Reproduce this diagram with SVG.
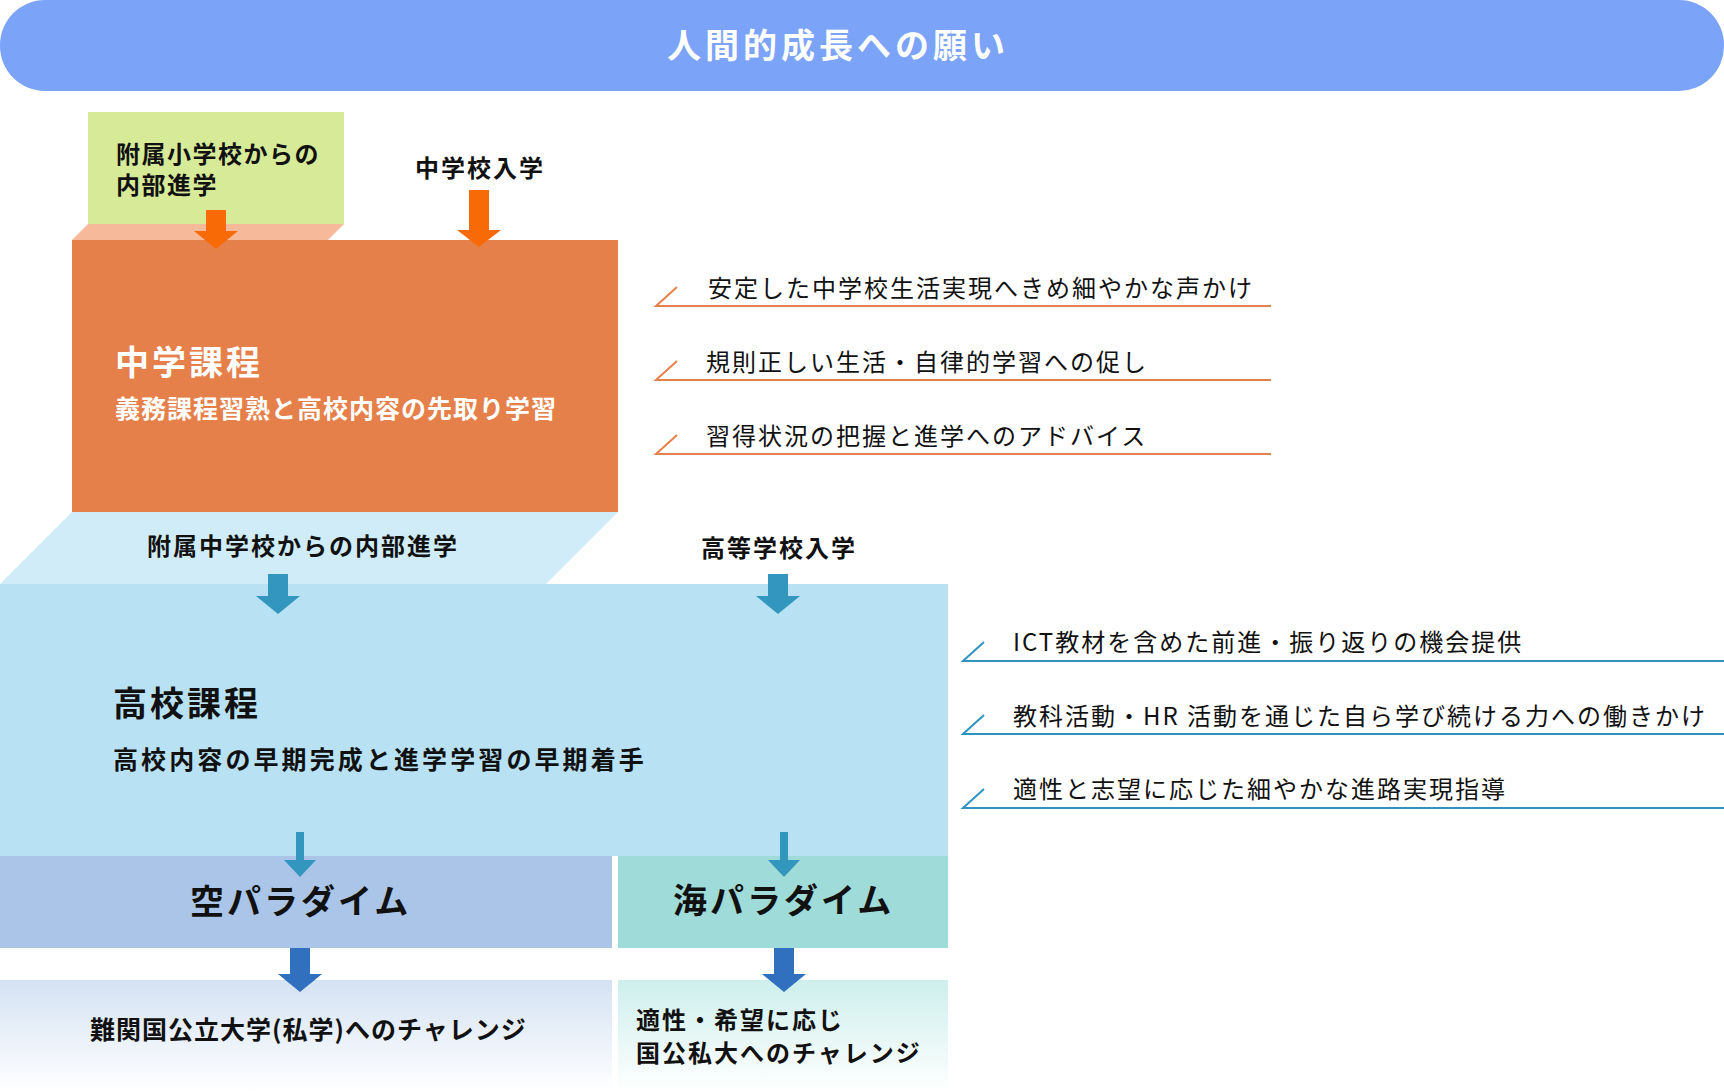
<svg xmlns="http://www.w3.org/2000/svg" width="1724" height="1092" viewBox="0 0 1724 1092">
<defs>
<style>
text { font-family: "Noto Sans CJK JP", "Noto Sans", sans-serif; }
.b { font-weight: 700; fill: #111; }
.w { font-weight: 700; fill: #fff; }
.r { font-weight: 400; fill: #111; font-size: 24px; letter-spacing: 2px; }
.lo { stroke: #E6804A; stroke-width: 2; fill: none; }
.lb { stroke: #2E93BF; stroke-width: 2; fill: none; }
.ao { fill: #F76A06; }
.ab { fill: #3396BF; }
.ad { fill: #3070BE; }
</style>
<linearGradient id="gSky" x1="0" y1="0" x2="0" y2="1">
<stop offset="0" stop-color="#D4E2F3"/>
<stop offset="1" stop-color="#FFFFFF"/>
</linearGradient>
<linearGradient id="gSea" x1="0" y1="0" x2="0" y2="1">
<stop offset="0" stop-color="#CDEFEC"/>
<stop offset="1" stop-color="#FFFFFF"/>
</linearGradient>
</defs>

<g id="banner">
<rect x="0" y="0" width="1724" height="91" rx="45" ry="45" fill="#7BA3F8"/>
<text x="838" y="58" class="w" font-size="34" letter-spacing="4" text-anchor="middle">人間的成長への願い</text>
</g>

<g id="elem-entry">
<rect x="88" y="112" width="256" height="112" fill="#D6EA98"/>
<text x="116" y="163" class="b" font-size="24" letter-spacing="1.5">附属小学校からの</text>
<text x="116" y="194" class="b" font-size="24" letter-spacing="1.5">内部進学</text>
</g>

<g id="jh-entry">
<text x="415" y="177" class="b" font-size="24" letter-spacing="2">中学校入学</text>
</g>

<g id="jh-course">
<polygon points="88,224 344,224 328,240 72,240" fill="#F6B99A"/>
<rect x="72" y="240" width="546" height="272" fill="#E6804A"/>
<text x="115" y="375" class="w" font-size="34" letter-spacing="3">中学課程</text>
<text x="115" y="418" class="w" font-size="25" letter-spacing="1">義務課程習熟と高校内容の先取り学習</text>
</g>

<g id="jh-points">
<text x="708" y="297" class="r">安定した中学校生活実現へきめ細やかな声かけ</text>
<text x="706" y="371" class="r">規則正しい生活・自律的学習への促し</text>
<text x="706" y="445" class="r">習得状況の把握と進学へのアドバイス</text>
</g>

<g id="hs-entry-internal">
<polygon points="72,512 618,512 546,584 0,584" fill="#D0ECF8"/>
<text x="147" y="555" class="b" font-size="24" letter-spacing="2">附属中学校からの内部進学</text>
</g>

<g id="hs-entry">
<text x="701" y="557" class="b" font-size="24" letter-spacing="2">高等学校入学</text>
</g>

<g id="hs-course">
<rect x="0" y="584" width="948" height="272" fill="#B8E2F3"/>
<text x="113" y="716" class="b" font-size="34" letter-spacing="3">高校課程</text>
<text x="113" y="769" class="b" font-size="25" letter-spacing="3.1">高校内容の早期完成と進学学習の早期着手</text>
</g>

<g id="hs-points">
<text x="1013" y="651" class="r">ICT教材を含めた前進・振り返りの機会提供</text>
<text x="1013" y="725" class="r">教科活動・HR 活動を通じた自ら学び続ける力への働きかけ</text>
<text x="1013" y="798" class="r">適性と志望に応じた細やかな進路実現指導</text>
</g>

<g id="sky">
<rect x="0" y="856" width="612" height="92" fill="#AAC5E7"/>
<text x="190" y="914" class="b" font-size="34" letter-spacing="3">空パラダイム</text>
</g>

<g id="sea">
<rect x="618" y="856" width="330" height="92" fill="#9FDBD9"/>
<text x="673" y="913" class="b" font-size="34" letter-spacing="3">海パラダイム</text>
</g>

<g id="sky-goal">
<rect x="0" y="980" width="612" height="112" fill="url(#gSky)"/>
<text x="90" y="1039" class="b" font-size="25" letter-spacing="1">難関国公立大学(私学)へのチャレンジ</text>
</g>

<g id="sea-goal">
<rect x="618" y="980" width="330" height="112" fill="url(#gSea)"/>
<text x="636" y="1029" class="b" font-size="24" letter-spacing="2">適性・希望に応じ</text>
<text x="636" y="1062" class="b" font-size="24" letter-spacing="2">国公私大へのチャレンジ</text>
</g>

<g id="connectors">
<path class="ao" d="M206,210 H226 V231 H238 L216,249 L194,231 H206 Z"/>
<path class="ao" d="M469,190 H489 V230 H501 L479,247 L457,230 H469 Z"/>
<path class="ab" d="M268,574 H288 V596 H300 L278,614 L256,596 H268 Z"/>
<path class="ab" d="M768,574 H788 V596 H800 L778,614 L756,596 H768 Z"/>
<path class="ab" d="M296,832 H304 V860 H316 L300,877 L284,860 H296 Z"/>
<path class="ab" d="M780,832 H788 V860 H800 L784,877 L768,860 H780 Z"/>
<path class="ad" d="M290,948 H310 V974 H322 L300,992 L278,974 H290 Z"/>
<path class="ad" d="M774,948 H794 V974 H806 L784,992 L762,974 H774 Z"/>
<path class="lo" d="M677,287 L656,306 H1271"/>
<path class="lo" d="M677,361 L656,380 H1271"/>
<path class="lo" d="M677,435 L656,454 H1271"/>
<path class="lb" d="M984,642 L963,661 H1724"/>
<path class="lb" d="M984,715 L963,734 H1724"/>
<path class="lb" d="M984,789 L963,808 H1724"/>
</g>
</svg>
